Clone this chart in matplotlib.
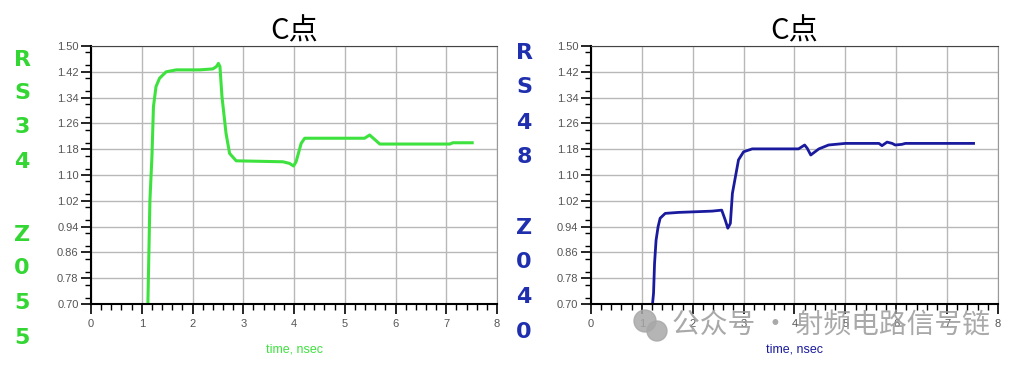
import matplotlib
matplotlib.use("Agg")
import matplotlib.pyplot as plt
from matplotlib.patches import Ellipse
from matplotlib.ticker import MultipleLocator

plt.rcParams['font.family'] = ['Liberation Sans', 'Noto Sans CJK SC', 'DejaVu Sans']

# 左图: RS34 Z055 (绿色)
t_green = [1.12, 1.16, 1.20, 1.23, 1.28, 1.35, 1.48, 1.68, 2.14, 2.40, 2.47, 2.51, 2.54,
           2.58, 2.66, 2.73, 2.86, 3.78, 3.91, 3.99, 4.04, 4.14, 4.21, 5.10, 5.39, 5.49,
           5.69, 7.07, 7.13, 7.51]
v_green = [0.70, 1.02, 1.157, 1.312, 1.374, 1.40, 1.42, 1.426, 1.426, 1.429, 1.436, 1.446, 1.436,
           1.343, 1.229, 1.167, 1.144, 1.141, 1.136, 1.128, 1.141, 1.198, 1.214, 1.214, 1.214, 1.224,
           1.196, 1.196, 1.200, 1.200]

# 右图: RS48 Z040 (蓝色)
t_blue = [1.21, 1.23, 1.25, 1.28, 1.32, 1.36, 1.46, 1.72, 2.38, 2.57, 2.64, 2.69, 2.74,
          2.78, 2.84, 2.90, 3.00, 3.17, 4.08, 4.20, 4.25, 4.32, 4.48, 4.67, 5.00, 5.66,
          5.72, 5.82, 5.92, 5.98, 6.11, 6.18, 7.52]
v_blue = [0.70, 0.733, 0.826, 0.898, 0.94, 0.966, 0.981, 0.984, 0.988, 0.991, 0.96, 0.935, 0.95,
          1.043, 1.095, 1.147, 1.172, 1.181, 1.181, 1.193, 1.183, 1.162, 1.181, 1.193, 1.198, 1.198,
          1.191, 1.202, 1.198, 1.193, 1.195, 1.198, 1.198]

title = 'C点'
side_green = list('RS34') + [''] + list('Z055')
side_blue = list('RS48') + [''] + list('Z040')
y_ticks = [0.70, 0.78, 0.86, 0.94, 1.02, 1.10, 1.18, 1.26, 1.34, 1.42, 1.50]
x_ticks = [0, 1, 2, 3, 4, 5, 6, 7, 8]

green = '#3ee23e'
blue = '#1a1a9e'

W, H = 1024, 371
fig = plt.figure(figsize=(W / 100, H / 100), dpi=100)
ax1 = fig.add_axes([0.0889, 0.1806, 0.3965, 0.6954])
ax2 = fig.add_axes([0.5771, 0.1806, 0.3975, 0.6954])


def style_axes(ax, color):
    ax.set_xlim(0, 8)
    ax.set_ylim(0.70, 1.50)
    ax.set_xticks(x_ticks)
    ax.set_yticks(y_ticks)
    ax.set_yticklabels([f"{v:.2f}" for v in y_ticks])
    ax.xaxis.set_minor_locator(MultipleLocator(0.2))
    ax.yaxis.set_minor_locator(MultipleLocator(0.04))
    ax.grid(True, which='major', color='#b8b8b8', linewidth=1.0)
    ax.tick_params(which='major', direction='out', length=7, width=1.2, color='black',
                   labelsize=8, labelcolor='#555555', pad=2)
    ax.tick_params(which='minor', direction='out', length=4, width=1.0, color='black')
    ax.tick_params(axis='x', pad=4)
    for s in ['left', 'bottom']:
        ax.spines[s].set_color('black')
        ax.spines[s].set_linewidth(1.5)
    ax.spines['top'].set_color('#444444')
    ax.spines['right'].set_color('#999999')
    ax.set_title(title, fontsize=21, family=['Noto Sans CJK SC'], pad=1)
    ax.set_xlabel('time, nsec', fontsize=9, color=color, labelpad=10)


style_axes(ax1, green)
style_axes(ax2, blue)

ax1.plot(t_green, v_green, color=green, linewidth=2.2)
ax2.plot(t_blue, v_blue, color=blue, linewidth=2.0)

# 竖排标注
letter_y = [60, 93, 127, 162, 0, 235, 268, 303, 338]
for ch, py in zip(side_green, letter_y):
    if ch:
        fig.text(22 / W, 1 - py / H, ch, color='#33d633', fontsize=16,
                 fontweight='bold', ha='center', va='center', family=['DejaVu Sans'])
letter_y2 = [53, 87, 123, 157, 0, 228, 262, 297, 332]
for ch, py in zip(side_blue, letter_y2):
    if ch:
        fig.text(524 / W, 1 - py / H, ch, color='#1f2fae', fontsize=16,
                 fontweight='bold', ha='center', va='center', family=['DejaVu Sans'])

# 水印
fig.text(672 / W, 1 - 326 / H, '公众号 · 射频电路信号链', color='#9a9a9a', alpha=0.85,
         fontsize=20, ha='left', va='center', family=['Noto Sans CJK SC', 'DejaVu Sans'])
for cx, cy, r in [(645, 321, 11), (657, 331, 10)]:
    fig.patches.append(Ellipse((cx / W, 1 - cy / H), 2 * r / W, 2 * r / H,
                               transform=fig.transFigure, color='#a8a8a8', alpha=0.85))

fig.savefig('out.png', dpi=100)
